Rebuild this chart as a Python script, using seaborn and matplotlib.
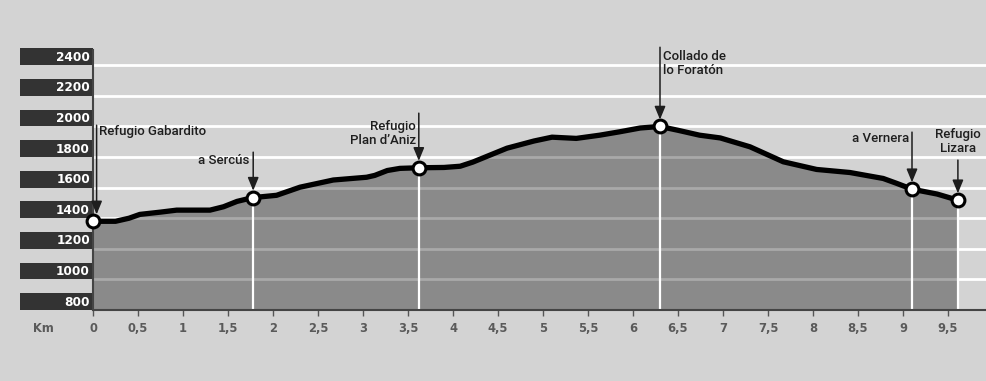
import matplotlib
matplotlib.use("Agg")
import matplotlib.pyplot as plt
import matplotlib.transforms as mtransforms
from matplotlib.patches import Rectangle
import seaborn as sns

# elevation profile (km, metres)
km = [0, 0.25, 0.4, 0.52, 0.75, 0.93, 1.3, 1.45, 1.6, 1.74, 1.78, 2.04, 2.3,
      2.67, 3.04, 3.13, 3.27, 3.41, 3.62, 3.9, 4.08, 4.22, 4.6, 4.9, 5.1,
      5.37, 5.63, 5.85, 6.08, 6.3, 6.5, 6.74, 6.97, 7.3, 7.67, 8.04, 8.41,
      8.78, 8.93, 9.1, 9.38, 9.61]
elev = [1380, 1380, 1400, 1425, 1440, 1453, 1453, 1475, 1510, 1530, 1535,
        1550, 1603, 1650, 1668, 1680, 1712, 1726, 1730, 1732, 1740, 1767,
        1858, 1905, 1930, 1922, 1943, 1965, 1990, 2000, 1975, 1943, 1925,
        1867, 1769, 1719, 1699, 1660, 1628, 1590, 1558, 1518]

# waypoints
stop_km = [0, 1.78, 3.62, 6.3, 9.1, 9.61]
stop_elev = [1380, 1535, 1730, 2000, 1590, 1518]
stop_names = ["Refugio Gabardito", "a Sercús", "Refugio\nPlan d\u2019Aniz",
              "Collado de\nlo Foratón", "a Vernera", "Refugio\nLizara"]

y_levels = [800, 1000, 1200, 1400, 1600, 1800, 2000, 2200, 2400]
x_ticks = [i * 0.5 for i in range(21)]

BG = "#d3d3d3"
FILL = "#8a8a8a"
INK = "#1e1e1e"

sns.set_style("white")
plt.rcParams["font.family"] = ["Roboto", "Liberation Sans", "DejaVu Sans"]

fig = plt.figure(figsize=(9.87, 3.81), dpi=100, facecolor=BG)
ax = fig.add_axes([93 / 987, 71 / 381, 10.05 * 90 / 987, 260 / 381])
ax.set_facecolor(BG)
ax.set_xlim(0, 10.05)
ax.set_ylim(800, 2500)

# grid behind
for v in y_levels[1:]:
    ax.axhline(v, color="white", lw=2, zorder=0.5)

fill = ax.fill_between(km, elev, 800, color=FILL, lw=0, zorder=1)

# lighter grid lines inside the filled area
gl = ax.hlines(y_levels[1:], 0, 10, color="#a9a9a9", lw=2, zorder=1.5)
gl.set_clip_path(fill.get_paths()[0], fill.get_transform())

# white drop lines under the waypoints
ax.vlines(stop_km[1:], 800, stop_elev[1:], color="white", lw=1.6, zorder=2)

sns.lineplot(x=km, y=elev, ax=ax, color="black", lw=3.8, zorder=3,
             solid_capstyle="round", solid_joinstyle="round")
sns.scatterplot(x=stop_km, y=stop_elev, ax=ax, s=85, color="white",
                edgecolor="black", linewidth=2.2, zorder=4, clip_on=False)

# labels + arrows  (x_text, y_text, ha, arrow top, arrow x)
label_pos = [
    (0.07, 1969, "left", 2008, 0.04),
    (1.74, 1780, "right", 1832, 1.78),
    (3.59, 1957, "right", 2087, 3.62),
    (6.33, 2410, "left", 2518, 6.3),
    (9.07, 1923, "right", 1963, 9.1),
    (9.61, 1900, "center", 1780, 9.61),
]
for name, sy, (tx, ty, ha, top, ax_x) in zip(stop_names, stop_elev, label_pos):
    ax.text(tx, ty, name, ha=ha, va="center", fontsize=9.5, fontweight="medium",
            color=INK, linespacing=1.1, zorder=5)
    ax.annotate("", xy=(ax_x, sy + 45), xytext=(ax_x, top),
                arrowprops=dict(arrowstyle="-|>,head_length=0.8,head_width=0.33",
                                color=INK, lw=1.1, shrinkA=0, shrinkB=0),
                annotation_clip=False, zorder=5)

# dark elevation boxes to the left of the axis
trans = mtransforms.blended_transform_factory(fig.transFigure, ax.transData)
for v in y_levels:
    ax.add_patch(Rectangle((20 / 987, v), 73 / 987, 110, transform=trans,
                           facecolor="#333333", edgecolor="none",
                           clip_on=False, zorder=2))
    ax.text(90 / 987, v + 52, str(v), transform=trans, ha="right",
            va="center", color="white", fontsize=8.7, fontweight="bold",
            family="DejaVu Sans", zorder=3, clip_on=False)

ax.set_yticks([])
ax.set_xticks(x_ticks)
# the last label (10) sits off the right edge in the original, so leave it blank
ax.set_xticklabels([("%g" % t).replace(".", ",") if t < 10 else ""
                    for t in x_ticks],
                   fontsize=8.3, fontweight="bold", color="#5a5a5a",
                   family="DejaVu Sans")
ax.tick_params(axis="x", direction="out", length=4, width=1, color="#555555",
               pad=5, bottom=True)
ax.text(-0.55, -0.07, "Km", transform=mtransforms.blended_transform_factory(
    ax.transData, ax.transAxes), ha="center", va="center", fontsize=8.3,
    fontweight="bold", color="#5a5a5a", family="DejaVu Sans")

for s in ["top", "right"]:
    ax.spines[s].set_visible(False)
ax.spines["left"].set_color("#444444")
ax.spines["left"].set_linewidth(1.5)
ax.spines["bottom"].set_color("#444444")
ax.spines["bottom"].set_linewidth(1.5)

fig.savefig("out.png", dpi=100, facecolor=BG)
